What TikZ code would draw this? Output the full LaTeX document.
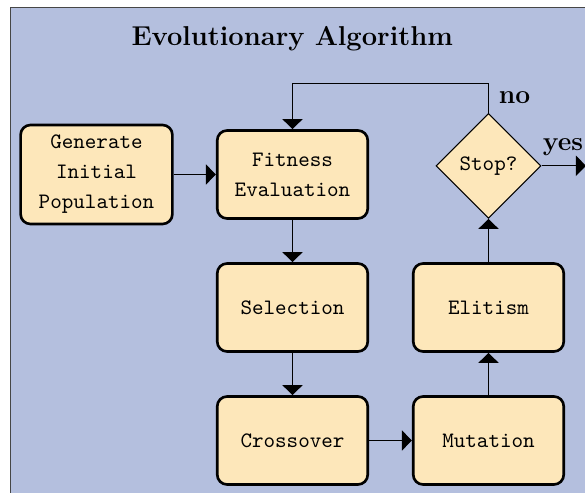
\documentclass[tikz,border=0pt]{standalone}
\usetikzlibrary{arrows.meta,shapes.geometric}
\definecolor{panelbg}{RGB}{180,191,222}
\definecolor{panelrule}{RGB}{70,70,70}
\definecolor{boxfill}{RGB}{253,231,186}
\tikzset{
  stepbox/.style={draw=black, line width=1.2pt, fill=boxfill, rounded corners=4.5pt,
    minimum width=68.4pt, minimum height=40pt, align=center, inner sep=2pt,
    font=\ttfamily\fontsize{10}{13.6}\selectfont},
  decision/.style={diamond, draw=black, line width=0.5pt, fill=boxfill, aspect=1,
    minimum width=47.7pt, minimum height=47.7pt, inner sep=0pt,
    font=\ttfamily\fontsize{10}{13.6}\selectfont},
  flow/.style={draw=black, line width=0.5pt, -{Triangle[length=4.6pt,width=9.2pt]}},
  edgelabel/.style={font=\large\bfseries, inner sep=0pt},
}
\begin{document}
\begin{tikzpicture}[x=0.4545pt, y=-0.4545pt]
  % page frame
  \useasboundingbox (0,0) rectangle (585,493);
  \clip (0,0) rectangle (585,493);
  % panel behind the chart
  \draw[panelrule, fill=panelbg, line width=0.5pt] (10.5,7.5) rectangle (620,530);

  % heading
  \node[font=\fontsize{12.4}{15}\bfseries\selectfont, anchor=base, inner sep=0pt] (title) at (292.2,45.7) {Evolutionary Algorithm};

  % process steps
  \node[stepbox, minimum height=45pt, minimum width=69pt] (gen) at (96.5,174.5) {Generate\\Initial\\Population};
  \node[stepbox] (fit) at (292.5,174.5) {Fitness\\Evaluation};
  \node[stepbox] (sel) at (292.5,307.5) {Selection};
  \node[stepbox] (cross) at (292.5,440.5) {Crossover};
  \node[stepbox] (mut) at (488.5,440.5) {Mutation};
  \node[stepbox] (elit) at (488.5,307.5) {Elitism};
  \node[decision] (stop) at (488.5,165.8) {Stop?};

  % loop-back corner and exit point
  \coordinate (looptop) at (488.5,83.3);
  \coordinate (exit) at (586,165.8);

  % connectors
  \draw[flow] (gen) -- (fit);
  \draw[flow] (fit) -- (sel);
  \draw[flow] (sel) -- (cross);
  \draw[flow] (cross) -- (mut);
  \draw[flow] (mut) -- (elit);
  \draw[flow] (elit) -- (stop);
  \draw[flow] (stop.north) -- (looptop) -| (fit.north);
  \draw[flow] (stop.east) -- (exit);

  % branch labels
  \node[edgelabel, anchor=base west] (nolabel) at (498.5,103.3) {no};
  \node[edgelabel, anchor=base west] (yeslabel) at (542.5,150.7) {yes};
\end{tikzpicture}
\end{document}
